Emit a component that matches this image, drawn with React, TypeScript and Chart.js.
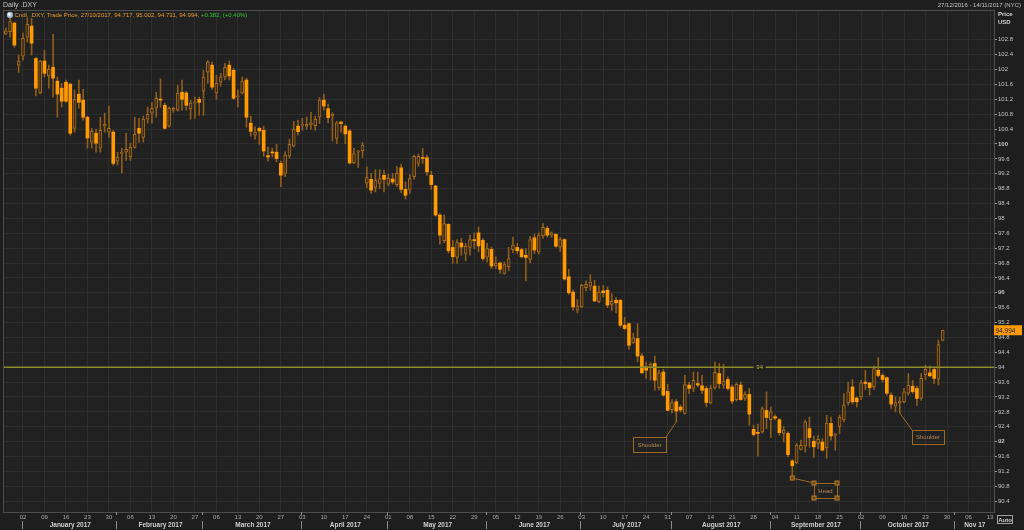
import { useEffect, useRef } from "react";
import { Chart, registerables } from "chart.js";

Chart.register(...registerables);

// ---------- DATA ----------
const openP = [
  102.95, 103.02, 103.25, 102.12, 102.36, 102.87, 103.17, 102.30, 101.37, 102.23,
  101.83, 102.06, 101.69, 101.50, 101.66, 101.61, 100.42, 101.34, 101.18, 100.72,
  100.05, 100.29, 99.89, 100.48, 100.32, 100.32, 99.54, 99.75, 99.78, 99.65,
  99.91, 100.42, 100.18, 100.67, 100.83, 100.96, 101.20, 101.04, 100.48, 100.91,
  100.91, 101.39, 101.37, 100.94, 101.10, 101.20, 101.42, 101.93, 102.12, 101.37,
  101.66, 101.80, 102.12, 101.98, 101.27, 101.37, 101.72, 100.56, 100.24, 100.42,
  100.37, 99.69, 99.77, 99.78, 99.48, 99.21, 99.68, 99.94, 100.48, 100.50,
  100.48, 100.51, 100.49, 100.73, 101.18, 100.95, 100.75, 100.15, 100.59, 100.48,
  100.35, 99.49, 99.78, 99.82, 98.95, 99.05, 98.83, 98.94, 99.16, 98.92,
  99.06, 98.91, 99.36, 98.78, 98.78, 99.12, 99.48, 99.64, 99.63, 99.16,
  98.87, 98.09, 97.40, 97.84, 97.22, 96.95, 97.34, 97.06, 97.22, 97.43,
  97.61, 97.41, 96.96, 97.17, 96.72, 96.80, 96.52, 96.70, 97.16, 97.22,
  97.16, 97.01, 96.90, 97.48, 97.10, 97.53, 97.73, 97.55, 97.57, 97.23,
  97.43, 96.43, 96.02, 95.53, 95.62, 96.14, 96.18, 96.18, 95.76, 96.05,
  96.07, 95.69, 95.80, 95.80, 95.13, 95.17, 94.65, 94.77, 94.30, 94.01,
  93.99, 94.10, 93.45, 93.87, 93.35, 92.86, 93.07, 92.93, 92.76, 93.52,
  93.43, 93.56, 93.50, 93.43, 93.04, 93.44, 93.83, 93.52, 93.67, 93.47,
  93.13, 93.52, 93.16, 93.27, 92.33, 92.25, 92.26, 92.84, 92.59, 92.67,
  92.59, 92.22, 92.22, 91.48, 91.43, 91.79, 91.88, 92.35, 92.01, 91.95,
  91.99, 91.83, 92.49, 92.17, 92.41, 92.58, 93.04, 93.47, 93.17, 93.20,
  93.60, 93.58, 93.47, 93.92, 93.78, 93.72, 93.25, 92.95, 93.04, 93.07,
  93.30, 93.49, 93.43, 93.17, 93.80, 93.85, 93.94, 93.68, 94.72,
];
const highP = [
  103.12, 103.38, 103.27, 102.39, 102.98, 103.38, 103.38, 102.33, 102.25, 102.52,
  102.12, 102.95, 101.80, 101.63, 101.72, 101.63, 101.45, 101.72, 101.47, 100.75,
  100.42, 100.40, 100.72, 100.83, 101.02, 100.37, 99.78, 99.89, 100.29, 100.02,
  100.72, 100.69, 100.75, 100.99, 101.12, 101.39, 101.75, 101.10, 100.99, 100.99,
  101.58, 101.72, 101.42, 101.18, 101.26, 101.26, 101.98, 102.25, 102.20, 101.85,
  101.90, 102.17, 102.23, 102.04, 101.45, 101.80, 101.77, 100.75, 100.46, 100.46,
  100.48, 99.92, 99.89, 99.99, 99.54, 99.79, 100.13, 100.61, 100.64, 100.69,
  100.73, 100.85, 100.75, 101.25, 101.34, 101.07, 100.84, 100.61, 100.61, 100.51,
  100.39, 99.89, 99.83, 100.04, 99.39, 99.21, 99.31, 99.31, 99.30, 99.19,
  99.21, 99.40, 99.46, 98.98, 99.18, 99.70, 99.73, 99.88, 99.70, 99.27,
  98.89, 98.13, 98.09, 97.86, 97.41, 97.43, 97.46, 97.33, 97.55, 97.61,
  97.77, 97.46, 97.33, 97.23, 96.97, 96.83, 96.83, 97.22, 97.50, 97.33,
  97.20, 97.19, 97.52, 97.58, 97.61, 97.86, 97.79, 97.64, 97.59, 97.49,
  97.46, 96.63, 96.07, 95.82, 96.23, 96.32, 96.49, 96.34, 96.18, 96.20,
  96.16, 95.98, 95.87, 95.82, 95.34, 95.19, 94.91, 95.17, 94.37, 94.14,
  94.12, 94.30, 93.92, 93.94, 93.54, 93.13, 93.13, 92.98, 93.78, 93.60,
  93.87, 93.87, 93.78, 93.49, 93.52, 94.14, 94.10, 94.08, 93.74, 93.52,
  93.58, 93.60, 93.34, 93.43, 92.44, 92.47, 92.93, 93.34, 92.93, 92.71,
  92.62, 92.40, 92.26, 91.52, 91.95, 92.04, 92.58, 92.66, 92.15, 92.17,
  92.08, 92.71, 92.66, 92.22, 92.71, 93.29, 93.60, 93.67, 93.20, 93.65,
  93.92, 93.58, 94.03, 94.26, 93.83, 93.74, 93.31, 93.20, 93.20, 93.43,
  93.83, 93.65, 93.49, 93.83, 94.05, 94.03, 94.01, 94.73, 95.00,
];
const lowP = [
  102.94, 102.87, 102.60, 101.92, 102.25, 102.74, 102.39, 101.29, 101.34, 101.80,
  101.50, 101.26, 100.72, 100.99, 101.12, 100.24, 100.32, 100.96, 100.64, 99.89,
  99.89, 99.78, 99.78, 100.32, 100.18, 99.43, 99.43, 99.22, 99.56, 99.56,
  99.89, 100.05, 100.05, 100.56, 100.56, 100.72, 100.99, 100.40, 100.45, 100.85,
  100.88, 100.91, 100.91, 100.67, 100.69, 100.77, 100.77, 101.63, 101.47, 101.20,
  101.55, 101.72, 101.72, 101.20, 100.99, 101.34, 100.45, 100.21, 100.13, 99.99,
  99.67, 99.54, 99.65, 99.52, 98.85, 99.12, 99.62, 99.92, 100.24, 100.37,
  100.40, 100.40, 100.37, 100.55, 100.91, 100.57, 100.08, 100.01, 100.32, 100.01,
  99.46, 99.47, 99.37, 99.64, 98.83, 98.67, 98.71, 98.80, 98.71, 98.87,
  98.92, 98.85, 98.69, 98.52, 98.67, 99.05, 99.40, 99.48, 99.16, 98.78,
  98.06, 97.31, 97.35, 97.07, 96.79, 96.79, 97.01, 96.86, 97.01, 97.19,
  97.10, 96.88, 96.83, 96.65, 96.65, 96.53, 96.50, 96.59, 97.07, 97.06,
  96.94, 96.32, 96.80, 97.06, 97.04, 97.46, 97.50, 97.49, 97.23, 97.11,
  96.34, 95.96, 95.53, 95.46, 95.60, 96.05, 96.07, 95.76, 95.73, 95.89,
  95.60, 95.53, 95.46, 95.08, 95.01, 94.48, 94.64, 94.14, 93.83, 93.70,
  93.65, 93.38, 93.38, 93.22, 92.83, 92.77, 92.53, 92.80, 92.74, 93.29,
  93.34, 93.47, 93.29, 92.93, 93.02, 93.41, 93.43, 93.43, 93.38, 93.02,
  93.09, 93.11, 93.11, 92.44, 92.15, 91.61, 92.23, 92.35, 92.11, 92.58,
  92.17, 91.99, 91.59, 91.02, 91.41, 91.77, 91.72, 91.85, 91.57, 91.81,
  91.75, 91.55, 92.04, 91.77, 92.22, 92.53, 92.98, 93.01, 92.93, 93.13,
  93.40, 93.25, 93.40, 93.74, 93.60, 93.25, 92.89, 92.80, 92.77, 93.04,
  93.25, 93.30, 92.97, 93.11, 93.66, 93.74, 93.56, 93.52, 94.71,
];
const closeP = [
  103.04, 103.29, 102.66, 102.23, 102.84, 103.22, 102.71, 101.50, 102.23, 101.90,
  102.01, 101.77, 101.34, 101.15, 101.15, 100.29, 101.20, 101.12, 100.72, 100.16,
  100.34, 100.02, 100.37, 100.53, 100.42, 99.48, 99.65, 99.78, 99.86, 99.91,
  100.26, 100.29, 100.67, 100.80, 100.96, 101.23, 101.18, 100.42, 100.96, 100.96,
  101.37, 101.20, 101.04, 101.10, 101.12, 101.12, 101.80, 102.20, 101.53, 101.63,
  101.80, 102.06, 101.83, 101.23, 101.29, 101.69, 100.72, 100.34, 100.32, 100.35,
  99.81, 99.65, 99.76, 99.61, 99.16, 99.70, 99.99, 100.40, 100.33, 100.52,
  100.53, 100.57, 100.66, 101.18, 101.02, 100.71, 100.80, 100.57, 100.55, 100.27,
  99.49, 99.74, 99.80, 99.97, 99.10, 98.76, 99.03, 99.07, 99.05, 99.08,
  98.98, 99.21, 98.78, 98.62, 99.07, 99.67, 99.67, 99.61, 99.25, 98.91,
  98.09, 97.55, 97.86, 97.13, 96.97, 97.35, 97.23, 97.25, 97.43, 97.40,
  97.26, 96.92, 97.19, 96.72, 96.80, 96.63, 96.76, 96.92, 97.28, 97.13,
  96.97, 96.95, 97.43, 97.15, 97.55, 97.76, 97.55, 97.61, 97.25, 97.43,
  96.37, 96.00, 95.62, 95.64, 96.20, 96.23, 96.29, 95.78, 96.02, 96.00,
  95.67, 95.77, 95.73, 95.13, 95.04, 94.59, 94.79, 94.30, 93.85, 93.92,
  94.08, 93.65, 93.85, 93.25, 92.84, 93.04, 92.82, 92.85, 93.53, 93.43,
  93.65, 93.52, 93.38, 93.05, 93.43, 93.86, 93.56, 93.63, 93.43, 93.09,
  93.54, 93.13, 93.27, 92.74, 92.19, 92.22, 92.89, 92.65, 92.80, 92.63,
  92.24, 92.31, 91.65, 91.35, 91.90, 91.90, 92.53, 92.11, 91.86, 92.06,
  91.77, 92.50, 92.15, 92.20, 92.65, 92.98, 93.34, 93.07, 93.07, 93.58,
  93.56, 93.45, 93.96, 93.78, 93.67, 93.30, 93.01, 93.05, 93.09, 93.34,
  93.52, 93.34, 93.16, 93.70, 93.94, 93.77, 93.70, 94.61, 94.99,
];

// weekly (Monday) ticks, as trading-day index
const mondayIdx = [
  4, 9, 14, 19, 24, 29, 34, 39, 44, 49, 54, 59, 64, 69, 74, 79, 84, 89, 94, 99,
  104, 109, 114, 119, 124, 129, 134, 139, 144, 149, 154, 159, 164, 169, 174, 179,
  184, 189, 194, 199, 204, 209, 214, 219, 224, 229,
];
const mondayLabels = [
  "02", "09", "16", "23", "30", "06", "13", "20", "27", "06", "13", "20", "27",
  "03", "10", "17", "24", "01", "08", "15", "22", "29", "05", "12", "19", "26",
  "03", "10", "17", "24", "31", "07", "14", "21", "28", "04", "11", "18", "25",
  "02", "09", "16", "23", "30", "06", "13",
];
const monthStarts = [4, 26, 46, 69, 89, 112, 134, 155, 178, 199, 221];
const monthNames = [
  "January 2017", "February 2017", "March 2017", "April 2017", "May 2017",
  "June 2017", "July 2017", "August 2017", "September 2017", "October 2017", "Nov 17",
];
const yTicks = [
  90.4, 90.8, 91.2, 91.6, 92, 92.4, 92.8, 93.2, 93.6, 94, 94.4, 94.8, 95.2, 95.6,
  96, 96.4, 96.8, 97.2, 97.6, 98, 98.4, 98.8, 99.2, 99.6, 100, 100.4, 100.8, 101.2,
  101.6, 102, 102.4, 102.8,
];
const boldTicks = [92, 96, 100];
const lastPrice = 94.994;
const levelLine = 94;

// ---------- LAYOUT / STYLE ----------
const X_MIN = -0.65;
const X_MAX = 229.93;
const Y_MIN = 90.108;
const Y_MAX = 103.575;
const LEVEL_LABEL_X = 175.4;
const F = '"Liberation Sans", Arial, sans-serif';
const BG = "#1e1e1e";
const PLOT_BG = "#212121";
const GRID = "#2d2d2d";
const FILL_DOWN = "#ff9a00";
const HOLLOW_FILL = "#3b2a12";
const HOLLOW_BORDER = "#a56c1c";
const WICK = "#8e5d1a";
const ANN = "#9a6a22";

const annotations = [
  { text: "Shoulder", ax: 156, ay: 92.53, x1: 145.94, y1: 92.124, x2: 153.62, y2: 91.72, corner: "tr", handles: false },
  { text: "Head", ax: 183, ay: 91.02, x1: 188.05, y1: 90.887, x2: 193.4, y2: 90.484, corner: "tl", handles: true },
  { text: "Shoulder", ax: 208, ay: 92.77, x1: 210.85, y1: 92.312, x2: 218.3, y2: 91.935, corner: "tl", handles: false },
];

const idx = openP.map((_, i) => i);
const isUp = (i: number) => closeP[i] > openP[i];

const decor = {
  id: "decor",
  beforeDraw(chart: any) {
    const { ctx, chartArea: a } = chart;
    ctx.save();
    ctx.fillStyle = BG;
    ctx.fillRect(0, 0, chart.width, chart.height);
    ctx.fillStyle = PLOT_BG;
    ctx.fillRect(a.left, a.top, a.right - a.left, a.bottom - a.top);
    ctx.restore();
  },
  afterDatasetsDraw(chart: any) {
    const { ctx } = chart;
    const xs = chart.scales.x;
    const ys = chart.scales.y;
    ctx.save();
    // level label
    const lx = xs.getPixelForValue(LEVEL_LABEL_X);
    const ly = ys.getPixelForValue(levelLine);
    ctx.fillStyle = PLOT_BG;
    ctx.fillRect(lx - 6, ly - 3, 12, 6);
    ctx.fillStyle = "#b8b840";
    ctx.font = `6px ${F}`;
    ctx.textAlign = "center";
    ctx.textBaseline = "middle";
    ctx.fillText(String(levelLine), lx, ly + 0.5);

    // annotations
    for (const an of annotations) {
      const px = xs.getPixelForValue(an.ax);
      const py = ys.getPixelForValue(an.ay);
      const bx1 = xs.getPixelForValue(an.x1);
      const by1 = ys.getPixelForValue(an.y1);
      const bx2 = xs.getPixelForValue(an.x2);
      const by2 = ys.getPixelForValue(an.y2);
      const cx = an.corner === "tr" ? bx2 : bx1;
      ctx.strokeStyle = ANN;
      ctx.lineWidth = 1;
      ctx.beginPath();
      ctx.moveTo(px, py);
      ctx.lineTo(cx, by1);
      ctx.stroke();
      ctx.strokeRect(Math.round(bx1) + 0.5, Math.round(by1) + 0.5, Math.round(bx2 - bx1), Math.round(by2 - by1));
      ctx.fillStyle = "#b48a4e";
      ctx.font = `6px ${F}`;
      ctx.textAlign = "center";
      ctx.textBaseline = "middle";
      ctx.fillText(an.text, (bx1 + bx2) / 2, (by1 + by2) / 2 + 0.5);
      if (an.handles) {
        const pts = [[px, py], [bx1, by1], [bx2, by1], [bx1, by2], [bx2, by2]];
        for (const [hx, hy] of pts) {
          ctx.fillStyle = "#6e4a16";
          ctx.fillRect(hx - 2, hy - 2, 4, 4);
          ctx.strokeStyle = "#b67c28";
          ctx.strokeRect(hx - 2, hy - 2, 4, 4);
        }
      }
    }
    ctx.restore();
  },
  afterDraw(chart: any) {
    const { ctx, chartArea: a } = chart;
    const xs = chart.scales.x;
    const ys = chart.scales.y;
    ctx.save();
    // frame
    ctx.strokeStyle = "#4c4c4c";
    ctx.lineWidth = 1;
    ctx.strokeRect(Math.round(a.left) + 0.5, 10.5, Math.round(a.right - a.left), Math.round(a.bottom) - 10);

    // header
    ctx.textBaseline = "middle";
    ctx.textAlign = "left";
    ctx.fillStyle = "#c4c4c4";
    ctx.font = `7px ${F}`;
    ctx.fillText("Daily .DXY", 3, 5);
    ctx.textAlign = "right";
    ctx.font = `6px ${F}`;
    ctx.fillText("27/12/2016 - 14/11/2017 (NYC)", 1021, 5);
    ctx.textAlign = "left";
    ctx.font = `bold 6px ${F}`;
    ctx.fillStyle = "#d0d0d0";
    ctx.fillText("Price", 998, 14);
    ctx.fillText("USD", 998, 22);

    // legend icon + text
    const g = ctx.createRadialGradient(9, 14, 0.5, 10, 15, 3.5);
    g.addColorStop(0, "#ffffff");
    g.addColorStop(1, "#6f8fb0");
    ctx.fillStyle = g;
    ctx.beginPath();
    ctx.arc(10, 15, 3.2, 0, Math.PI * 2);
    ctx.fill();
    ctx.font = `6px ${F}`;
    const legA = "Cndl, .DXY, Trade Price, 27/10/2017, 94.717, 95.002, 94.731, 94.994, ";
    ctx.fillStyle = "#e69a2e";
    ctx.fillText(legA, 14.5, 15.5);
    const w = ctx.measureText(legA).width;
    ctx.fillStyle = "#2ec82e";
    ctx.fillText("+0.382, (+0.40%)", 14.5 + w, 15.5);

    // month separators and names
    ctx.strokeStyle = "#8a8a8a";
    monthStarts.forEach((m, k) => {
      const sx = Math.round(xs.getPixelForValue(m - 0.3)) + 0.5;
      ctx.beginPath();
      if (k > 0) {
        ctx.moveTo(sx, a.bottom);
        ctx.lineTo(sx, a.bottom + 3);
      }
      ctx.moveTo(sx, a.bottom + 9);
      ctx.lineTo(sx, a.bottom + 17);
      ctx.stroke();
    });
    ctx.font = `bold 6.5px ${F}`;
    ctx.fillStyle = "#cfcfcf";
    ctx.textAlign = "center";
    monthNames.forEach((name, k) => {
      const s = monthStarts[k];
      const e = k + 1 < monthStarts.length ? monthStarts[k + 1] : X_MAX;
      ctx.fillText(name, xs.getPixelForValue((s + e) / 2), a.bottom + 13.5);
    });

    // last price tag
    const ty = ys.getPixelForValue(lastPrice);
    ctx.fillStyle = "#ff9a00";
    ctx.fillRect(a.right, ty - 5, 28, 10);
    ctx.fillStyle = "#1a1a1a";
    ctx.textAlign = "left";
    ctx.font = `6.5px ${F}`;
    ctx.fillText(lastPrice.toFixed(3), a.right + 1.5, ty + 0.5);

    // Auto box
    ctx.strokeStyle = "#a0a0a0";
    ctx.strokeRect(997.5, 515.5, 15, 8);
    ctx.fillStyle = "#d0d0d0";
    ctx.font = `bold 6px ${F}`;
    ctx.textAlign = "center";
    ctx.fillText("Auto", 1005, 520);
    ctx.restore();
  },
};

export default function App() {
  const ref = useRef<HTMLCanvasElement | null>(null);
  useEffect(() => {
    document.body.style.margin = "0";
    document.body.style.background = BG;
    if (!ref.current) return;
    const chart = new Chart(ref.current, {
      type: "bar",
      data: {
        datasets: [
          {
            type: "line",
            data: [
              { x: X_MIN, y: levelLine },
              { x: X_MAX, y: levelLine },
            ],
            borderColor: "#8c8c28",
            borderWidth: 1.5,
            pointRadius: 0,
            order: 0,
          } as any,
          {
            data: idx.map((i) => ({ x: i, y: [lowP[i], highP[i]] })),
            backgroundColor: WICK,
            barThickness: 1,
            grouped: false,
            minBarLength: 1,
            order: 3,
          } as any,
          {
            data: idx.map((i) => ({ x: i, y: [openP[i], closeP[i]] })),
            backgroundColor: (c: any) => (isUp(c.dataIndex) ? HOLLOW_FILL : FILL_DOWN),
            borderColor: (c: any) => (isUp(c.dataIndex) ? HOLLOW_BORDER : FILL_DOWN),
            borderWidth: (c: any) => (isUp(c.dataIndex) ? 1 : 0),
            borderSkipped: false,
            barThickness: 3,
            grouped: false,
            minBarLength: 1,
            order: 2,
          } as any,
        ],
      },
      options: {
        responsive: false,
        animation: false,
        devicePixelRatio: 1,
        layout: { padding: { top: 11, left: 3, right: 0, bottom: 0 } },
        plugins: {
          legend: { display: false },
          tooltip: { enabled: false },
          title: { display: false },
        },
        scales: {
          x: {
            type: "linear",
            min: X_MIN,
            max: X_MAX,
            offset: false,
            afterBuildTicks: (s: any) => {
              s.ticks = mondayIdx.map((v) => ({ value: v }));
            },
            afterFit: (s: any) => {
              s.height = 18;
            },
            ticks: {
              autoSkip: false,
              maxRotation: 0,
              padding: 2,
              color: "#a8a8a8",
              font: { size: 6, family: F },
              callback: (_v: any, i: number) => mondayLabels[i],
            },
            grid: { color: GRID, offset: false, drawTicks: false, tickLength: 0 },
            border: { display: false },
          },
          y: {
            type: "linear",
            position: "right",
            min: Y_MIN,
            max: Y_MAX,
            afterBuildTicks: (s: any) => {
              s.ticks = yTicks.map((v) => ({ value: v }));
            },
            afterFit: (s: any) => {
              s.width = 30;
            },
            ticks: {
              autoSkip: false,
              padding: 1,
              color: "#c2c2c2",
              font: (c: any) => ({
                size: 6,
                family: F,
                weight: c.tick && boldTicks.includes(c.tick.value) ? "bold" : "normal",
              }),
              callback: (v: any) => String(v),
            },
            grid: { color: GRID, tickColor: "#9a9a9a", tickLength: 3 },
            border: { display: false },
          },
        },
      } as any,
      plugins: [decor],
    });
    return () => chart.destroy();
  }, []);
  return <canvas ref={ref} width={1024} height={530} style={{ display: "block" }} />;
}
